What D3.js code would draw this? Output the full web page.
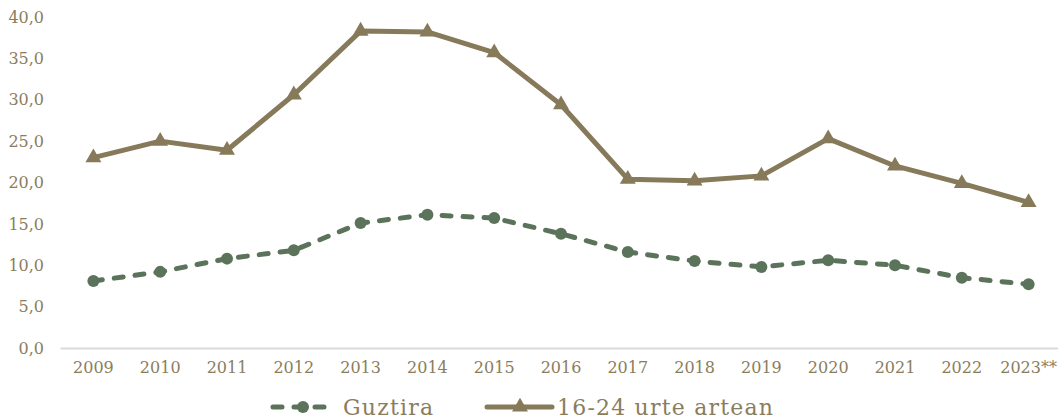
<!DOCTYPE html>
<html>
<head>
<meta charset="utf-8">
<script src="https://cdn.jsdelivr.net/npm/d3@7"></script>
<style>
  body { margin: 0; background: #fff; }
  text { font-family: "DejaVu Serif", serif; }
</style>
</head>
<body>
<svg id="chart" width="1058" height="420"></svg>
<script>
// values
const years = ["2009","2010","2011","2012","2013","2014","2015","2016","2017","2018","2019","2020","2021","2022","2023**"];
const guztira = [8.1, 9.2, 10.8, 11.8, 15.1, 16.1, 15.7, 13.8, 11.6, 10.5, 9.8, 10.6, 10.0, 8.5, 7.7];
const gazteak = [23.0, 25.0, 23.9, 30.6, 38.3, 38.2, 35.7, 29.4, 20.4, 20.2, 20.8, 25.3, 22.0, 19.9, 17.6];
const yTicks = [0, 5, 10, 15, 20, 25, 30, 35, 40];
const seriesNames = ["Guztira", "16-24 urte artean"];

const green = "#5b735b", brown = "#867a5a", labelColor = "#8a7d5e";

const svg = d3.select("#chart");
const margin = {top: 17, right: -4, bottom: 72, left: 60};
const width = 1058 - margin.left - margin.right,
      height = 420 - margin.top - margin.bottom;

const g = svg.append("g").attr("transform", "translate(" + margin.left + "," + margin.top + ")");

const x = d3.scaleBand().domain(years).range([0, width]);
const y = d3.scaleLinear().domain([0, 40]).range([height, 0]);
const cx = d => x(d) + x.bandwidth() / 2;

// y axis labels, no line
const yAxis = g.append("g")
    .call(d3.axisLeft(y).tickValues(yTicks).tickSize(0).tickPadding(16)
      .tickFormat(d => d3.format(".1f")(d).replace(".", ",")));
yAxis.select(".domain").remove();
yAxis.selectAll("text").attr("fill", labelColor).style("font-size", "16px").style("font-family", "DejaVu Serif");

// x axis
const xAxis = g.append("g")
    .attr("transform", "translate(0," + height + ")")
    .call(d3.axisBottom(x).tickSize(0).tickPadding(14));
xAxis.select(".domain").attr("stroke", "#d9d9d9").attr("stroke-width", 2);
xAxis.selectAll("text").attr("fill", labelColor).style("font-size", "16px").style("font-family", "DejaVu Serif");

const line = d3.line()
    .x((d, i) => cx(years[i]))
    .y(d => y(d));

// 16-24 line
g.append("path")
    .datum(gazteak)
    .attr("fill", "none")
    .attr("stroke", brown)
    .attr("stroke-width", 5)
    .attr("stroke-linejoin", "round")
    .attr("d", line);

const tri = d3.symbol().type(d3.symbolTriangle).size(110);
g.selectAll(".tri")
    .data(gazteak)
    .enter().append("path")
    .attr("fill", brown)
    .attr("transform", (d, i) => "translate(" + cx(years[i]) + "," + y(d) + ")")
    .attr("d", tri);

// Guztira line
g.append("path")
    .datum(guztira)
    .attr("fill", "none")
    .attr("stroke", green)
    .attr("stroke-width", 5)
    .attr("stroke-linecap", "round")
    .attr("stroke-dasharray", "9,12")
    .attr("d", line);

g.selectAll(".dot")
    .data(guztira)
    .enter().append("circle")
    .attr("cx", (d, i) => cx(years[i]))
    .attr("cy", d => y(d))
    .attr("r", 6)
    .attr("fill", green);

// legend
const leg = svg.append("g").attr("transform", "translate(0,407)");
leg.append("line").attr("x1", 273).attr("x2", 333).attr("y1", 0).attr("y2", 0)
    .attr("stroke", green).attr("stroke-width", 5).attr("stroke-linecap", "round").attr("stroke-dasharray", "9,12");
leg.append("circle").attr("cx", 303).attr("cy", 0).attr("r", 6).attr("fill", green);
leg.append("text").attr("x", 343).attr("y", 8).attr("fill", labelColor)
    .style("font-size", "22px").style("letter-spacing", "1.2px").text(seriesNames[0]);

leg.append("line").attr("x1", 487).attr("x2", 552).attr("y1", 0).attr("y2", 0)
    .attr("stroke", brown).attr("stroke-width", 5).attr("stroke-linecap", "round");
leg.append("path").attr("transform", "translate(520,0)").attr("d", tri).attr("fill", brown);
leg.append("text").attr("x", 557).attr("y", 8).attr("fill", labelColor)
    .style("font-size", "22px").style("letter-spacing", "1.2px").text(seriesNames[1]);
</script>
</body>
</html>
